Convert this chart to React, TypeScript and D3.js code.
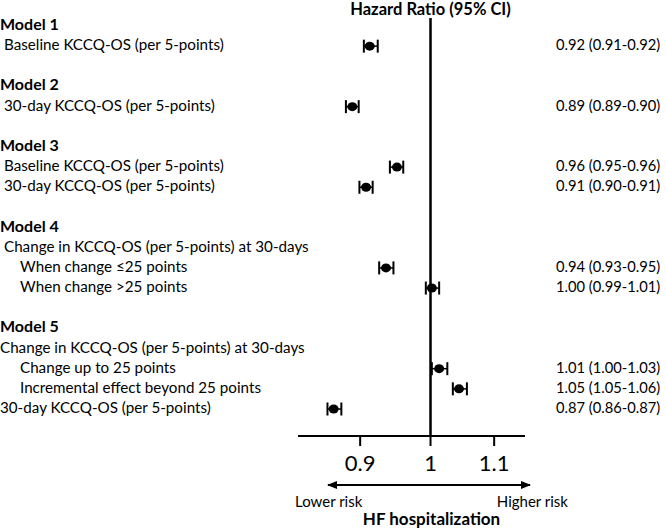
import React from "react";
import * as d3 from "d3";

// ---- data ----
const lineLabels = [
  "Model 1",
  "Baseline KCCQ-OS (per 5-points)",
  "",
  "Model 2",
  "30-day KCCQ-OS (per 5-points)",
  "",
  "Model 3",
  "Baseline KCCQ-OS (per 5-points)",
  "30-day KCCQ-OS (per 5-points)",
  "",
  "Model 4",
  "Change in KCCQ-OS (per 5-points) at 30-days",
  "When change \u226425 points",
  "When change >25 points",
  "",
  "Model 5",
  "Change in KCCQ-OS (per 5-points) at 30-days",
  "Change up to 25 points",
  "Incremental effect beyond 25 points",
  "30-day KCCQ-OS (per 5-points)",
];
const lineIsHeader = [1, 0, 0, 1, 0, 0, 1, 0, 0, 0, 1, 0, 0, 0, 0, 1, 0, 0, 0, 0];
const lineLevel = [0, 1, 0, 0, 1, 0, 0, 1, 1, 0, 0, 1, 2, 2, 0, 0, 0, 2, 2, 0];

const estimateLine = [1, 4, 7, 8, 12, 13, 17, 18, 19];
const hazardRatio = [0.913, 0.8895, 0.951, 0.908, 0.9355, 1.002, 1.013, 1.0436, 0.865];
const ciLower = [0.905, 0.881, 0.941, 0.899, 0.926, 0.993, 1.002, 1.034, 0.857];
const ciUpper = [0.924, 0.898, 0.96, 0.917, 0.946, 1.013, 1.0255, 1.056, 0.875];
const hrText = [
  "0.92 (0.91-0.92)",
  "0.89 (0.89-0.90)",
  "0.96 (0.95-0.96)",
  "0.91 (0.90-0.91)",
  "0.94 (0.93-0.95)",
  "1.00 (0.99-1.01)",
  "1.01 (1.00-1.03)",
  "1.05 (1.05-1.06)",
  "0.87 (0.86-0.87)",
];
const axisTicks = [0.9, 1, 1.1];
const axisDomain = [0.82, 1.152];
const referenceValue = 1;

const title = "Hazard Ratio (95% CI)";
const lowerLabel = "Lower risk";
const higherLabel = "Higher risk";
const outcomeLabel = "HF hospitalization";

// ---- layout ----
const W = 666;
const H = 531;
const FONT = "Lato, 'Open Sans', sans-serif";

export default function App() {
  const x = d3.scaleLog().domain(axisDomain).range([298, 525]);
  const y = d3.scaleLinear().domain([0, lineLabels.length - 1]).range([30, 413]);
  const indentX = [0, 4, 20];
  const axisY = 436;
  const refX = x(referenceValue);
  const arrowY = 485;
  const capH = 6.5;

  return (
    <svg
      width={W}
      height={H}
      style={{ position: "absolute", left: 0, top: 0, background: "#fff" }}
      fontFamily={FONT}
    >
      <defs>
        <marker id="arr" viewBox="0 0 10 10" refX="9" refY="5" markerWidth="5" markerHeight="5" orient="auto-start-reverse">
          <path d="M0,1 L10,5 L0,9 z" fill="#000" />
        </marker>
      </defs>

      {/* title */}
      <text x={refX} y={15} textAnchor="middle" fontWeight="bold" fontSize={16.5} fill="#000">
        {title}
      </text>

      {/* left labels */}
      {lineLabels.map((t, i) =>
        t ? (
          lineIsHeader[i] ? (
            <text key={i} x={indentX[lineLevel[i]]} y={y(i)} fontSize={16} fontWeight="bold" fill="#000">
              {t}
            </text>
          ) : (
            <text
              key={i}
              transform={`translate(${indentX[lineLevel[i]]},${y(i)}) scale(0.95,1)`}
              fontSize={16}
              fill="#000"
            >
              {t}
            </text>
          )
        ) : null
      )}

      {/* reference line */}
      <line x1={refX} x2={refX} y1={18} y2={axisY} stroke="#000" strokeWidth={2.5} />

      {/* axis */}
      <line x1={x(axisDomain[0])} x2={x(axisDomain[1])} y1={axisY} y2={axisY} stroke="#000" strokeWidth={2} />
      {axisTicks.map((t) => (
        <g key={t}>
          <line x1={x(t)} x2={x(t)} y1={axisY} y2={axisY + 10} stroke="#000" strokeWidth={2} />
          <text x={x(t)} y={471} textAnchor="middle" fontSize={22} fill="#000">
            {d3.format("")(t)}
          </text>
        </g>
      ))}

      {/* estimates */}
      {estimateLine.map((li, k) => {
        const cy = y(li) - 4;
        return (
          <g key={k}>
            <line x1={x(ciLower[k])} x2={x(ciUpper[k])} y1={cy} y2={cy} stroke="#000" strokeWidth={1.5} />
            <line x1={x(ciLower[k])} x2={x(ciLower[k])} y1={cy - capH} y2={cy + capH} stroke="#000" strokeWidth={2} />
            <line x1={x(ciUpper[k])} x2={x(ciUpper[k])} y1={cy - capH} y2={cy + capH} stroke="#000" strokeWidth={2} />
            <ellipse cx={x(hazardRatio[k])} cy={cy} rx={5} ry={4.5} fill="#000" />
            <text transform={`translate(556,${y(li)}) scale(0.92,1)`} fontSize={16} fill="#000">
              {hrText[k]}
            </text>
          </g>
        );
      })}

      {/* arrow */}
      <line
        x1={328}
        x2={530}
        y1={arrowY}
        y2={arrowY}
        stroke="#000"
        strokeWidth={2}
        markerStart="url(#arr)"
        markerEnd="url(#arr)"
      />
      <text x={295} y={507} fontSize={15} fill="#000">
        {lowerLabel}
      </text>
      <text x={568} y={507} textAnchor="end" fontSize={15} fill="#000">
        {higherLabel}
      </text>
      <text x={refX + 1} y={525} textAnchor="middle" fontWeight="bold" fontSize={17} fill="#000">
        {outcomeLabel}
      </text>
    </svg>
  );
}
